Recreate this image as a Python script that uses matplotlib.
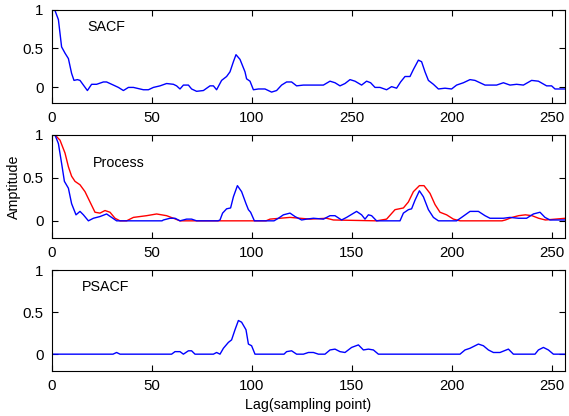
import matplotlib.pyplot as plt

plt.rcParams['font.family'] = ['Liberation Sans', 'DejaVu Sans']
plt.rcParams['font.size'] = 10.3

# SACF (top panel)
sacf_x = [0, 1.3, 3.2, 4.8, 6.5, 8.2, 9.8, 11, 12.7, 14, 15.7, 17.7, 19.8, 22.3, 25.7, 27.3,
          30.7, 33.2, 35.7, 38.2, 40.7, 45.7, 48.2, 50.7, 54, 57.3, 60.7, 62.3, 64, 65.7, 68.2,
          69.8, 72.3, 75.7, 79, 80.7, 82.3, 84.8, 87.3, 89, 90.7, 92, 94, 96.5, 97.3, 99, 100.7,
          103.2, 106.5, 109.8, 112.3, 114.8, 117.3, 119.8, 122.3, 125.7, 135.7, 139, 141.5, 144,
          146.5, 149, 151.5, 154.8, 157.3, 159.3, 161.5, 164, 167.3, 169.8, 172.3, 174.3, 176.5,
          179, 180.7, 183.2, 184.8, 186.5, 188.2, 190.7, 193.2, 196.5, 199.8, 202.3, 205.7, 209,
          211.5, 214, 216.5, 222.3, 225.7, 229, 232.3, 235.7, 239.8, 243.2, 247.3, 249.8, 251.5, 256.5]
sacf_y = [1.0, 1.0, 0.87, 0.52, 0.44, 0.37, 0.18, 0.09, 0.1, 0.09, 0.03, -0.04, 0.04, 0.04, 0.07, 0.07,
          0.03, 0.0, -0.04, 0.0, 0.0, -0.03, -0.03, 0.0, 0.02, 0.05, 0.04, 0.02, -0.02, 0.03, 0.03,
          -0.02, -0.05, -0.04, 0.02, 0.02, -0.03, 0.09, 0.14, 0.2, 0.33, 0.42, 0.36, 0.2, 0.11, 0.08, -0.03,
          -0.02, -0.02, -0.06, -0.04, 0.03, 0.07, 0.07, 0.02, 0.03, 0.03, 0.08, 0.06, 0.02,
          0.05, 0.1, 0.08, 0.03, 0.08, 0.06, 0.0, 0.0, -0.03, 0.01, -0.01, 0.07, 0.14,
          0.14, 0.23, 0.35, 0.33, 0.2, 0.09, 0.04, -0.02, -0.01, -0.02, 0.03, 0.06, 0.1,
          0.09, 0.06, 0.03, 0.03, 0.06, 0.03, 0.04, 0.03, 0.09, 0.08, 0.02, 0.02, -0.02, -0.02]

# Process (middle panel), blue and red
proc_b_x = [0, 1.5, 3.2, 4.8, 6.2, 8.2, 9.8, 12, 14, 15.7, 18.2, 20.7, 24, 27.3, 29.8, 32.3, 55,
            55.7, 59, 61.5, 64, 67.3, 69.8, 72.3, 83, 84, 85.3, 87.3, 89.3, 90.7, 92.7, 94.8, 97,
            98.2, 99.3, 101.2, 111, 113.2, 115.7, 119, 121.5, 124.8, 127.3, 130.7, 135.7, 139,
            141.5, 144.8, 147.3, 152.3, 154.8, 156.5, 158.2, 159.8, 162.3, 174, 175.7, 178.2,
            179.8, 181.5, 183.7, 185.7, 188.2, 190.7, 193.2, 202.3, 204.8, 209, 213.2, 216.5, 219,
            225.7, 229, 233.2, 237.3, 240.7, 244, 246.5, 249, 257]
proc_b_y = [1.0, 1.0, 0.9, 0.67, 0.46, 0.38, 0.2, 0.07, 0.11, 0.07, 0.0, 0.03, 0.05, 0.08, 0.04, 0.0, 0.0,
            0.01, 0.03, 0.03, 0.0, 0.02, 0.02, 0.0, 0.0, 0.01, 0.09, 0.14, 0.15, 0.28, 0.41, 0.34, 0.2,
            0.13, 0.1, 0.0, 0.0, 0.03, 0.07, 0.09, 0.05, 0.01, 0.02, 0.03, 0.02, 0.06,
            0.06, 0.01, 0.04, 0.11, 0.07, 0.02, 0.07, 0.06, 0.0, 0.0, 0.09, 0.13,
            0.14, 0.24, 0.35, 0.28, 0.13, 0.04, 0.0, 0.0, 0.04, 0.11, 0.11, 0.06, 0.03,
            0.03, 0.04, 0.03, 0.03, 0.08, 0.1, 0.04, 0.01, 0.01]
proc_r_x = [0, 1.5, 4, 6.5, 8.2, 9.8, 11.5, 14, 16.5, 19, 21.5, 24, 26.5, 29, 31.5, 34, 37.3, 40.7,
            47.3, 52.3, 57.3, 60.7, 64, 107, 109, 114, 119, 124, 129, 137.3, 140.7, 162.3, 167.3,
            171.5, 175.7, 178.2, 180.7, 183.7, 186, 189, 191.5, 194, 197.3, 200.7, 204, 225,
            226.7, 230, 233.3, 236.7, 240, 243.3, 246.7, 251.7, 256.7]
proc_r_y = [1.0, 1.0, 0.94, 0.79, 0.63, 0.52, 0.46, 0.42, 0.34, 0.22, 0.1, 0.09, 0.12, 0.1, 0.03, 0.0, 0.0, 0.04,
            0.06, 0.08, 0.06, 0.03, 0.0, 0.0, 0.02, 0.03, 0.04, 0.03, 0.02, 0.03, 0.01, 0.0, 0.02,
            0.13, 0.15, 0.22, 0.34, 0.41, 0.41, 0.32, 0.19, 0.1, 0.07, 0.02, 0.0, 0.0,
            0.01, 0.04, 0.06, 0.07, 0.06, 0.03, 0.01, 0.02, 0.03]

# PSACF (bottom panel)
psacf_x = [0, 30.5, 32.3, 34, 59.8, 61.5, 64, 65.7, 68.2, 69.8, 71.5, 80.7, 82.3, 84, 85.7, 88.2,
           89.8, 91.5, 93.2, 94.8, 97, 98.2, 99.8, 101.5, 116, 117.3, 119.8, 122.3, 125.7, 128.2,
           130.7, 133.2, 136.5, 139, 141.5, 144, 146.5, 149.8, 153.2, 155.7, 158.2, 160.7, 163.2,
           204, 206.5, 209, 213.2, 215.7, 218.2, 220.7, 224, 228.2, 230.7, 241.5, 243.2, 245.7,
           248.2, 250.7, 258]
psacf_y = [0, 0, 0.02, 0, 0, 0.03, 0.03, 0, 0.04, 0.04, 0, 0, 0.02, 0, 0.07, 0.14,
           0.17, 0.29, 0.4, 0.38, 0.29, 0.12, 0.1, 0, 0, 0.03, 0.04, 0, 0, 0.02,
           0.02, 0, 0, 0.05, 0.06, 0.03, 0.02, 0.08, 0.11, 0.05, 0.06, 0.05, 0,
           0, 0.05, 0.07, 0.12, 0.1, 0.05, 0.02, 0.02, 0.06, 0, 0, 0.05, 0.08,
           0.05, 0, 0]

xticks = [0, 50, 100, 150, 200, 250]
top_xlabels = ['0', '50', '100', '250', '200', '250']
yticks = [0, 0.5, 1]
ylabels = ['0', '0.5', '1']

fig = plt.figure(figsize=(5.69, 4.16), dpi=100)
W, H = 569, 416
def add_axes(top, bottom):
    return fig.add_axes([52 / W, 1 - bottom / H, (565 - 52) / W, (bottom - top) / H])

ax1 = add_axes(9.5, 103)
ax2 = add_axes(135, 238)
ax3 = add_axes(270, 371)

ax1.plot(sacf_x, sacf_y, color='#0000ff', lw=1)
ax2.plot(proc_r_x, proc_r_y, color='#ff0000', lw=1)
ax2.plot(proc_b_x, proc_b_y, color='#0000ff', lw=1)
ax3.plot(psacf_x, psacf_y, color='#0000ff', lw=1)

for ax in (ax1, ax2, ax3):
    ax.set_xlim(0, 256.5)
    ax.set_ylim(-0.2, 1)
    ax.set_xticks(xticks)
    ax.set_yticks(yticks)
    ax.set_yticklabels(ylabels)
    ax.tick_params(direction='in', top=True, right=True, length=4, width=0.8,
                   pad=6, labelsize=10.8)
    for s in ax.spines.values():
        s.set_linewidth(0.8)

ax1.set_xticklabels(top_xlabels)

ax1.text(17.5, 0.77, 'SACF', va='center')
ax2.text(20.5, 0.67, 'Process', va='center')
ax3.text(15, 0.8, 'PSACF', va='center')

ax2.set_ylabel('Amptitude', labelpad=1)
ax3.set_xlabel('Lag(sampling point)', labelpad=3)

fig.savefig('out.png', dpi=100)
